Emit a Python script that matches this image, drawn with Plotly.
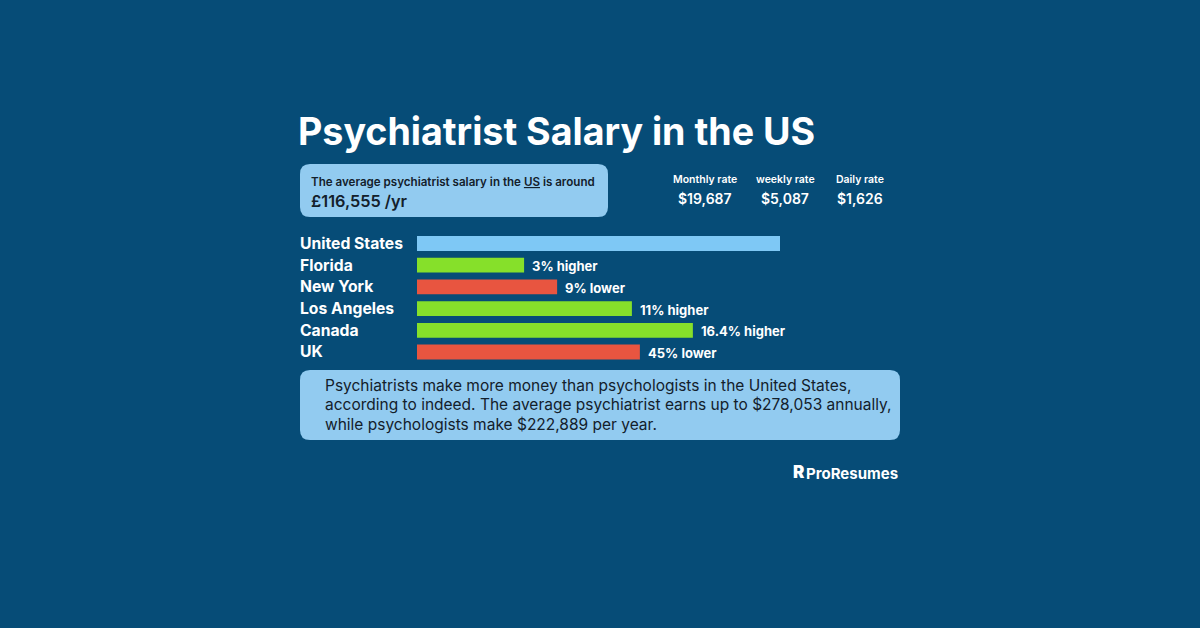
import plotly.graph_objects as go

# ---- data ----
categories = ["United States", "Florida", "New York", "Los Angeles", "Canada", "UK"]
bar_values = [100, 29.5, 38.6, 59.2, 76.0, 61.4]   # relative bar length (US = 100)
bar_labels = ["", "3% higher", "9% lower", "11% higher", "16.4% higher", "45% lower"]
bar_kinds = ["base", "higher", "lower", "higher", "higher", "lower"]

rate_names = ["Monthly rate", "weekly rate", "Daily rate"]
rate_values = ["$19,687", "$5,087", "$1,626"]

title_text = "Psychiatrist Salary in the US"
avg_intro = "The average psychiatrist salary in the <u>US</u> is around"
avg_value = "£116,555 /yr"
note_lines = [
    "Psychiatrists make more money than psychologists in the United States,",
    "according to indeed. The average psychiatrist earns up to $278,053 annually,",
    "while psychologists make $222,889 per year.",
]
brand = "ProResumes"

# ---- style ----
BG = "#064C77"
BOX = "#92CBF0"
DARK = "#13202B"
COLORS = {"base": "#7EC8F5", "higher": "#86E02A", "lower": "#E85540"}
FONT = "Inter"
W, H = 1200, 628


def px(x):
    return x / W


def py(y):
    return 1 - y / H


fig = go.Figure()
fig.add_trace(go.Bar(
    x=bar_values,
    y=categories,
    orientation="h",
    marker=dict(color=[COLORS[k] for k in bar_kinds], line=dict(width=0)),
    width=0.68,
    hoverinfo="skip",
))

annotations = []
# category labels (left aligned)
for c in categories:
    annotations.append(dict(
        x=px(298), xref="paper", y=c, yref="y", xanchor="left", yanchor="middle",
        text=c, showarrow=False,
        font=dict(family=FONT, size=15.7, color="white", weight=700),
    ))
# value labels
for c, v, lab in zip(categories, bar_values, bar_labels):
    if lab:
        annotations.append(dict(
            x=v, xref="x", y=c, yref="y", xanchor="left", yanchor="middle",
            xshift=6, yshift=-1,
            text=lab, showarrow=False,
            font=dict(family=FONT, size=13, color="white", weight=700),
        ))

# title
annotations.append(dict(
    x=px(296), y=py(131), xref="paper", yref="paper", xanchor="left", yanchor="middle",
    text=title_text, showarrow=False,
    font=dict(family=FONT, size=37.6, color="white", weight=700),
))
# average box text
annotations.append(dict(
    x=px(309), y=py(182), xref="paper", yref="paper", xanchor="left", yanchor="middle",
    text=avg_intro, showarrow=False,
    font=dict(family=FONT, size=11.6, color=DARK, weight=600),
))
annotations.append(dict(
    x=px(309), y=py(201), xref="paper", yref="paper", xanchor="left", yanchor="middle",
    text=avg_value, showarrow=False,
    font=dict(family=FONT, size=16.3, color=DARK, weight=600),
))
# rates
rate_x = [705, 785, 860]
for xx, n, v in zip(rate_x, rate_names, rate_values):
    annotations.append(dict(
        x=px(xx), y=py(179), xref="paper", yref="paper", xanchor="center", yanchor="middle",
        text=n, showarrow=False,
        font=dict(family=FONT, size=10.5, color="white", weight=600),
    ))
    annotations.append(dict(
        x=px(xx), y=py(198), xref="paper", yref="paper", xanchor="center", yanchor="middle",
        text=v, showarrow=False,
        font=dict(family=FONT, size=14, color="white", weight=600),
    ))
# note box text
for i, line in enumerate(note_lines):
    annotations.append(dict(
        x=px(323), y=py(385 + i * 19.5), xref="paper", yref="paper",
        xanchor="left", yanchor="middle",
        text=line, showarrow=False,
        font=dict(family=FONT, size=15.5, color=DARK, weight=400),
    ))
# brand
annotations.append(dict(
    x=px(791), y=py(472), xref="paper", yref="paper", xanchor="left", yanchor="middle",
    text="R", showarrow=False,
    font=dict(family=FONT, size=17, color="white", weight=900),
))
annotations.append(dict(
    x=px(804), y=py(473), xref="paper", yref="paper", xanchor="left", yanchor="middle",
    text=brand, showarrow=False,
    font=dict(family=FONT, size=15, color="white", weight=700),
))


def rounded(x0, y0, x1, y1, r):
    rx, ry = r / W, r / H
    X0, X1 = px(x0), px(x1)
    Y0, Y1 = py(y1), py(y0)  # bottom, top
    return (f"M {X0+rx},{Y0} L {X1-rx},{Y0} Q {X1},{Y0} {X1},{Y0+ry} "
            f"L {X1},{Y1-ry} Q {X1},{Y1} {X1-rx},{Y1} L {X0+rx},{Y1} "
            f"Q {X0},{Y1} {X0},{Y1-ry} L {X0},{Y0+ry} Q {X0},{Y0} {X0+rx},{Y0} Z")


shapes = [
    dict(type="path", xref="paper", yref="paper", path=rounded(300, 164, 608, 217, 10),
         fillcolor=BOX, line=dict(width=0), layer="below"),
    dict(type="path", xref="paper", yref="paper", path=rounded(300, 370, 900, 440, 10),
         fillcolor=BOX, line=dict(width=0), layer="below"),
]

fig.update_layout(
    width=W, height=H,
    margin=dict(l=0, r=0, t=0, b=0),
    paper_bgcolor=BG, plot_bgcolor=BG,
    showlegend=False,
    xaxis=dict(domain=[px(417), px(780)], range=[0, 100], visible=False, fixedrange=True),
    yaxis=dict(domain=[py(363.5), py(232)], categoryorder="array",
               categoryarray=categories, autorange="reversed",
               visible=False, fixedrange=True),
    annotations=annotations,
    shapes=shapes,
)

fig.write_html("out.html", config={"displayModeBar": False})
